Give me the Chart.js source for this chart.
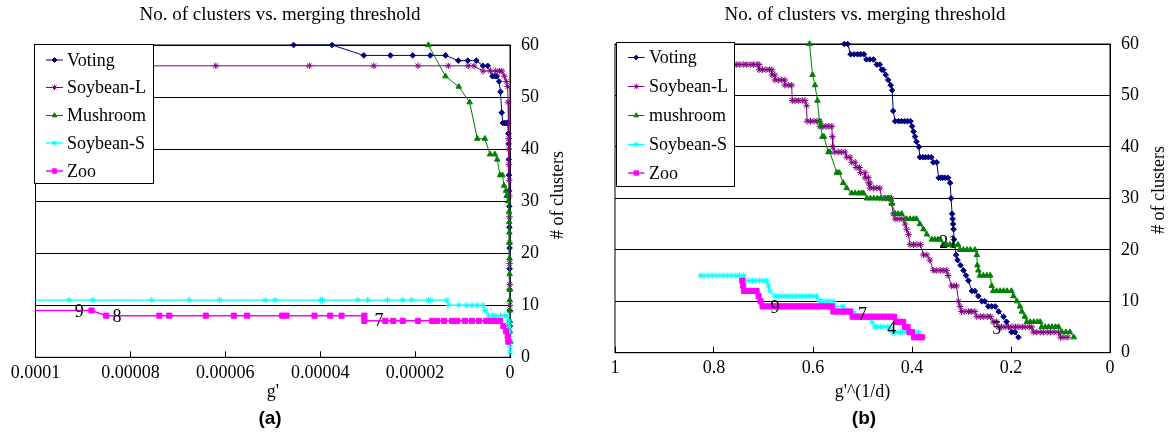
<!DOCTYPE html>
<html>
<head>
<meta charset="utf-8">
<script src="https://cdn.jsdelivr.net/npm/chart.js@4.4.1/dist/chart.umd.min.js"></script>
<style>
  html, body { margin: 0; padding: 0; background: #fff; }
  .panel { position: absolute; top: 0; width: 585px; height: 434px; }
  #panelA { left: 0; }
  #panelB { left: 585px; }
</style>
</head>
<body>
<div class="panel" id="panelA"><canvas id="chartA" width="585" height="434"></canvas></div>
<div class="panel" id="panelB"><canvas id="chartB" width="585" height="434"></canvas></div>
<script>
// ---- panel (a): number of clusters vs g' ----
const seriesNamesA = ['Voting', 'Soybean-L', 'Mushroom', 'Soybean-S', 'Zoo'];
const xTickValuesA = [0, 0.00002, 0.00004, 0.00006, 0.00008, 0.0001];
const xTickLabelsA = ['0', '0.00002', '0.00004', '0.00006', '0.00008', '0.0001'];

const aVotingX = [4.56e-5, 3.75e-5, 3.08e-5, 2.52e-5, 2.05e-5, 1.68e-5, 1.36e-5, 1.09e-5, 8.9e-6, 7.1e-6,
  5.7e-6, 4.7e-6, 3.7e-6, 3.2e-6, 2.8e-6, 2.3e-6, 2.0e-6, 1.75e-6, 1.5e-6, 1.05e-6,
  7e-7, 4.5e-7, 3.5e-7, 3e-7, 2.6e-7, 2.2e-7, 1.9e-7, 1.6e-7, 1.3e-7, 1e-7,
  8e-8, 6e-8, 4e-8, 2e-8, 1e-8];
const aVotingY = [60, 60, 58, 58, 58, 58, 58, 57, 57, 57,
  56, 56, 54, 54, 54, 53, 51, 47, 45, 45,
  45, 45, 43, 41, 38, 35, 32, 29, 25, 21,
  17, 13, 9, 6, 3];

const aSoyLX = [1.05e-4, 6.2e-5, 4.23e-5, 2.87e-5, 1.94e-5, 1.30e-5, 8.8e-6, 7.6e-6, 5.7e-6, 4.1e-6,
  3.0e-6, 2.2e-6, 1.7e-6, 1.2e-6, 8e-7, 5e-7, 4e-7, 3.5e-7, 3e-7, 2.6e-7,
  2.2e-7, 1.8e-7, 1.5e-7, 1.2e-7, 1e-7, 8e-8, 6e-8, 4e-8, 2e-8, 1e-8];
const aSoyLY = [56, 56, 56, 56, 56, 56, 56, 56, 55, 55,
  55, 55, 55, 54, 53, 52, 49, 45, 42, 40,
  37, 34, 31, 27, 22, 18, 14, 10, 6, 3];

const aMushX = [1.72e-5, 1.36e-5, 1.08e-5, 8.5e-6, 6.9e-6, 5.3e-6, 4.2e-6, 3.2e-6, 2.7e-6, 2.1e-6,
  1.6e-6, 1.26e-6, 8.4e-7, 7e-7, 3.6e-7, 2e-7, 1.6e-7, 1.3e-7, 1.1e-7, 9e-8,
  7e-8, 6e-8, 5e-8, 4e-8, 3e-8, 2e-8, 1e-8];
const aMushY = [60, 54, 52, 49, 42, 42, 39, 39, 38, 35,
  35, 33, 32, 31, 30, 28, 26, 24, 22, 19,
  16, 13, 11, 9, 7, 5, 3];

const aSoySX = [1.05e-4, 9.29e-5, 8.79e-5, 7.55e-5, 6.76e-5, 6.12e-5, 5.16e-5, 4.95e-5, 3.99e-5, 3.95e-5,
  3.21e-5, 3.0e-5, 2.58e-5, 2.26e-5, 2.07e-5, 1.72e-5, 1.67e-5, 1.33e-5, 1.29e-5, 1.08e-5,
  9.2e-6, 8.0e-6, 6.9e-6, 5.7e-6, 5.3e-6, 4.5e-6, 3.7e-6, 3.0e-6, 2.0e-6, 1.2e-6,
  6e-7, 3e-7, 2e-7, 1.5e-7, 1e-7, 6e-8, 3e-8, 1e-8];
const aSoySY = [11, 11, 11, 11, 11, 11, 11, 11, 11, 11,
  11, 11, 11, 11, 11, 11, 11, 11, 10, 10,
  10, 10, 10, 10, 9, 8, 8, 8, 8, 8,
  8, 7, 6, 5, 4, 3, 2, 1];

const aZooX = [1.05e-4, 8.82e-5, 8.51e-5, 7.39e-5, 7.18e-5, 6.41e-5, 5.82e-5, 5.54e-5, 4.80e-5, 4.71e-5,
  4.12e-5, 3.79e-5, 3.55e-5, 3.07e-5, 3.07e-5, 2.63e-5, 2.46e-5, 2.26e-5, 1.94e-5, 1.64e-5,
  1.54e-5, 1.39e-5, 1.22e-5, 1.11e-5, 9.5e-6, 8.0e-6, 6.5e-6, 5.0e-6, 4.0e-6, 3.0e-6,
  2.1e-6, 1.4e-6, 8.4e-7, 4.8e-7, 3.6e-7];
const aZooY = [9, 9, 8, 8, 8, 8, 8, 8, 8, 8,
  8, 8, 8, 8, 7, 7, 7, 7, 7, 7,
  7, 7, 7, 7, 7, 7, 7, 7, 7, 7,
  7, 6, 5, 4, 3];

const aNoteText = ['9', '8', '7'];
const aNoteX = [9.08e-5, 8.28e-5, 2.76e-5];
const aNoteY = [8.7, 7.7, 7.0];

// ---- panel (b): number of clusters vs g'^(1/d) ----
const seriesNamesB = ['Voting', 'Soybean-L', 'mushroom', 'Soybean-S', 'Zoo'];
const xTickValuesB = [0, 0.2, 0.4, 0.6, 0.8, 1];
const xTickLabelsB = ['0', '0.2', '0.4', '0.6', '0.8', '1'];

const bVotingX = [0.537, 0.530, 0.524, 0.517, 0.510, 0.504, 0.497, 0.492, 0.485, 0.478,
  0.471, 0.465, 0.461, 0.458, 0.453, 0.448, 0.443, 0.440, 0.438, 0.434,
  0.427, 0.421, 0.415, 0.409, 0.403, 0.400, 0.397, 0.394, 0.391, 0.386,
  0.384, 0.378, 0.373, 0.367, 0.361, 0.357, 0.350, 0.346, 0.342, 0.338,
  0.333, 0.327, 0.323, 0.321, 0.319, 0.318, 0.317, 0.316, 0.315, 0.311,
  0.308, 0.302, 0.296, 0.291, 0.286, 0.279, 0.273, 0.266, 0.259, 0.253,
  0.246, 0.239, 0.232, 0.225, 0.215, 0.209, 0.199, 0.192, 0.185];
const bVotingY = [60, 60, 58, 58, 58, 58, 58, 57, 57, 57,
  56, 56, 55, 55, 54, 53, 52, 51, 47, 45,
  45, 45, 45, 45, 45, 44, 43, 42, 41, 40,
  38, 38, 38, 38, 38, 37, 37, 34, 34, 34,
  34, 34, 33, 30, 27, 26, 25, 24, 22, 19,
  18, 17, 16, 15, 14, 12, 12, 11, 10, 10,
  9, 9, 9, 8, 7, 6, 4, 4, 3];

const bSoyLX = [
  0.770, 0.762, 0.755, 0.748, 0.741, 0.734, 0.727, 0.720, 0.713, 0.709,
  0.709, 0.702, 0.695, 0.688, 0.683,
  0.683, 0.677,
  0.677, 0.670, 0.663, 0.657,
  0.657, 0.650, 0.643,
  0.642, 0.636, 0.629, 0.622, 0.616,
  0.613,
  0.612, 0.605, 0.598, 0.592, 0.586,
  0.586, 0.580, 0.574, 0.568, 0.562,
  0.561, 0.560,
  0.556, 0.549, 0.542, 0.535,
  0.532, 0.525, 0.522, 0.515, 0.513, 0.506, 0.504, 0.495, 0.495, 0.488, 0.488, 0.485,
  0.485, 0.478, 0.471, 0.465,
  0.461, 0.454, 0.447, 0.441,
  0.441, 0.438,
  0.434, 0.426, 0.418,
  0.414, 0.411, 0.407,
  0.404, 0.397, 0.390, 0.383,
  0.377, 0.370, 0.364,
  0.357, 0.350, 0.343, 0.337, 0.330,
  0.327,
  0.320, 0.315, 0.310,
  0.306, 0.303,
  0.300, 0.293, 0.286, 0.280, 0.273,
  0.269, 0.262, 0.255, 0.248, 0.241,
  0.236, 0.229,
  0.226, 0.219, 0.212, 0.205, 0.198, 0.191, 0.184, 0.177, 0.170, 0.163, 0.158,
  0.155, 0.148, 0.141, 0.134, 0.127, 0.120, 0.113, 0.104,
  0.100, 0.093, 0.085];
const bSoyLY = [
  56, 56, 56, 56, 56, 56, 56, 56, 56, 56,
  55, 55, 55, 55, 55,
  54, 54,
  53, 53, 53, 53,
  52, 52, 52,
  49, 49, 49, 49, 49,
  48,
  45, 45, 45, 45, 45,
  44, 44, 44, 44, 44,
  42, 40,
  39, 39, 39, 39,
  38, 38, 37, 37, 36, 36, 35, 35, 34, 34, 33, 33,
  32, 32, 32, 32,
  30, 30, 30, 30,
  29, 27,
  26, 26, 26,
  25, 24, 23,
  21, 21, 21, 21,
  19, 19, 18,
  16, 16, 16, 16, 16,
  15,
  13, 13, 13,
  10, 9,
  8, 8, 8, 8, 8,
  7, 7, 7, 7, 7,
  6, 6,
  5, 5, 5, 5, 5, 5, 5, 5, 5, 5, 5,
  4, 4, 4, 4, 4, 4, 4, 4,
  3, 3, 3];

const bMushX = [0.607, 0.601, 0.596, 0.591, 0.587, 0.584, 0.581, 0.578, 0.569, 0.566,
  0.552, 0.547, 0.539, 0.532, 0.522, 0.515, 0.508, 0.502, 0.498, 0.491,
  0.484, 0.477, 0.470, 0.463, 0.456, 0.449, 0.444, 0.441, 0.434, 0.428,
  0.421, 0.411, 0.404, 0.397, 0.391, 0.384, 0.377, 0.370, 0.360, 0.354,
  0.348, 0.343, 0.337, 0.330, 0.323, 0.316, 0.307, 0.303, 0.296, 0.289,
  0.282, 0.273, 0.269, 0.268, 0.266, 0.263, 0.256, 0.249, 0.242, 0.239,
  0.236, 0.229, 0.222, 0.215, 0.208, 0.199, 0.195, 0.188, 0.182, 0.178,
  0.172, 0.168, 0.161, 0.154, 0.147, 0.141, 0.138, 0.131, 0.124, 0.117,
  0.110, 0.104, 0.097, 0.089, 0.081, 0.073];
const bMushY = [60, 54, 52, 49, 45, 44, 42, 42, 39, 39,
  35, 35, 33, 32, 31, 31, 31, 31, 31, 30,
  30, 30, 30, 30, 30, 30, 30, 29, 27, 27,
  27, 26, 26, 26, 26, 25, 24, 23, 22, 22,
  22, 22, 21, 21, 21, 21, 21, 20, 20, 20,
  20, 20, 19, 17, 16, 15, 15, 15, 15, 13,
  12, 12, 12, 12, 12, 12, 11, 10, 9, 8,
  7, 6, 6, 6, 6, 6, 5, 5, 5, 5,
  5, 5, 4, 4, 4, 3];

const bSoySX = [
  0.827, 0.820, 0.812, 0.804, 0.796, 0.788, 0.780, 0.772, 0.764, 0.756, 0.748, 0.740,
  0.736, 0.729, 0.722, 0.715, 0.708, 0.701, 0.694,
  0.690, 0.687,
  0.677, 0.670, 0.663, 0.656, 0.649, 0.642, 0.635, 0.628, 0.621, 0.614, 0.607, 0.600, 0.593,
  0.586, 0.582, 0.575, 0.568, 0.559,
  0.556, 0.540, 0.525, 0.519, 0.500, 0.485, 0.481,
  0.475, 0.471, 0.464, 0.457, 0.450, 0.444,
  0.440, 0.430, 0.423, 0.416, 0.409, 0.402, 0.395, 0.387,
  0.377];
const bSoySY = [
  15, 15, 15, 15, 15, 15, 15, 15, 15, 15, 15, 15,
  14, 14, 14, 14, 14, 14, 14,
  13, 12,
  11, 11, 11, 11, 11, 11, 11, 11, 11, 11, 11, 11, 11,
  10, 10, 10, 10, 10,
  9, 9, 8, 8, 7, 7, 6,
  5, 5, 5, 5, 5, 5,
  4, 4, 4, 4, 4, 4, 4, 4,
  3];

const bZooX = [
  0.743, 0.741,
  0.739, 0.731, 0.723, 0.714,
  0.710, 0.706,
  0.702, 0.695, 0.688, 0.681, 0.674, 0.667, 0.660, 0.653, 0.646, 0.639, 0.632,
  0.625, 0.618, 0.611, 0.604, 0.597, 0.590, 0.583, 0.576, 0.569, 0.562,
  0.559, 0.552, 0.545, 0.538, 0.531, 0.525,
  0.520, 0.513, 0.506, 0.499, 0.492, 0.485, 0.478, 0.471, 0.464, 0.457, 0.450, 0.443, 0.436,
  0.432, 0.425, 0.418,
  0.414, 0.409,
  0.405, 0.400,
  0.396, 0.390, 0.384, 0.380];
const bZooY = [
  14, 13,
  12, 12, 12, 12,
  11, 10,
  9, 9, 9, 9, 9, 9, 9, 9, 9, 9, 9,
  9, 9, 9, 9, 9, 9, 9, 9, 9, 9,
  8, 8, 8, 8, 8, 8,
  7, 7, 7, 7, 7, 7, 7, 7, 7, 7, 7, 7, 7,
  6, 6, 6,
  5, 5,
  4, 4,
  3, 3, 3, 3];

const bNoteText = ['9', '7', '4', '21', '5'];
const bNoteX = [0.677, 0.500, 0.441, 0.327, 0.229];
const bNoteY = [8.6, 7.3, 4.5, 21.3, 4.5];

// ---- look ----
const serif = '"Liberation Serif", "Times New Roman", serif';
const seriesLook = [
  { color: '#000080', style: 'rectRot', radius: 2.8, width: 1 },
  { color: '#800080', style: 'star', radius: 3.3, width: 1 },
  { color: '#008000', style: 'triangle', radius: 3.2, width: 1 },
  { color: '#00FFFF', style: 'star', radius: 3.2, width: 1.3 },
  { color: '#FF00FF', style: 'rect', radius: 3.6, width: 1.5 }
];

function toPoints(xs, ys) {
  return xs.map((x, i) => ({ x: x, y: ys[i] }));
}

function drawMarker(ctx, style, r, x, y) {
  if (Chart.helpers && Chart.helpers.drawPoint) {
    Chart.helpers.drawPoint(ctx, { pointStyle: style, radius: r, rotation: 0, borderWidth: 1 }, x, y);
    return;
  }
  ctx.beginPath();
  ctx.arc(x, y, r, 0, Math.PI * 2);
  ctx.fill();
}

function panelPlugin(p) {
  return {
    id: 'panelDecor',
    beforeDatasetsDraw(chart) {
      const ctx = chart.ctx, a = chart.chartArea;
      ctx.save();
      ctx.strokeStyle = '#000';
      ctx.lineWidth = 1;
      ctx.strokeRect(a.left, a.top, a.right - a.left, a.bottom - a.top);
      ctx.restore();
    },
    afterDatasetsDraw(chart) {
      const ctx = chart.ctx;
      const lb = p.legendBox;
      ctx.save();
      // legend box
      ctx.fillStyle = '#fff';
      ctx.fillRect(lb.x, lb.y, lb.w, lb.h);
      ctx.strokeStyle = '#000';
      ctx.lineWidth = 1;
      ctx.strokeRect(lb.x, lb.y, lb.w, lb.h);
      chart.data.datasets.forEach((ds, i) => {
        const y = p.legendRows[i];
        ctx.strokeStyle = ds.borderColor;
        ctx.lineWidth = ds.borderWidth;
        ctx.beginPath();
        ctx.moveTo(p.legendLine[0], y);
        ctx.lineTo(p.legendLine[1], y);
        ctx.stroke();
        ctx.fillStyle = ds.pointBackgroundColor;
        ctx.strokeStyle = ds.pointBorderColor;
        ctx.lineWidth = 1;
        drawMarker(ctx, ds.pointStyle, ds.pointRadius * 0.85, (p.legendLine[0] + p.legendLine[1]) / 2, y);
        ctx.fillStyle = '#000';
        ctx.font = '18px ' + serif;
        ctx.textAlign = 'left';
        ctx.textBaseline = 'middle';
        ctx.fillText(ds.label, p.legendText, y + 1);
      });
      // numbers written next to the curves
      const xs = chart.scales.x, ys = chart.scales.y;
      ctx.fillStyle = '#000';
      ctx.font = '18px ' + serif;
      ctx.textAlign = 'center';
      ctx.textBaseline = 'middle';
      p.notes.text.forEach((t, i) => {
        ctx.fillText(t, xs.getPixelForValue(p.notes.x[i]), ys.getPixelForValue(p.notes.y[i]));
      });
      ctx.restore();
    },
    afterDraw(chart) {
      const ctx = chart.ctx;
      ctx.save();
      ctx.fillStyle = '#000';
      ctx.textAlign = 'center';
      ctx.textBaseline = 'middle';
      ctx.font = '19px ' + serif;
      ctx.fillText('No. of clusters vs. merging threshold', p.titleX, 15);
      ctx.font = 'bold 19px "Liberation Sans", Arial, sans-serif';
      ctx.fillText(p.caption, p.captionX, 419);
      ctx.font = '18px ' + serif;
      ctx.translate(p.yTitleX, p.yTitleY);
      ctx.rotate(-Math.PI / 2);
      ctx.fillText('# of clusters', 0, 0);
      ctx.restore();
    }
  };
}

function buildPanel(p) {
  const datasets = p.series.map((s, i) => ({
    label: p.names[i],
    data: toPoints(s[0], s[1]),
    showLine: true,
    borderColor: seriesLook[i].color,
    backgroundColor: seriesLook[i].color,
    borderWidth: seriesLook[i].width,
    pointStyle: seriesLook[i].style,
    pointRadius: seriesLook[i].radius,
    pointHoverRadius: seriesLook[i].radius,
    pointBorderWidth: 1,
    pointBackgroundColor: seriesLook[i].color,
    pointBorderColor: seriesLook[i].color,
    order: 5 - i,
    tension: 0,
    clip: { left: 0, top: 8, right: 8, bottom: 8 }
  }));

  return new Chart(document.getElementById(p.canvas), {
    type: 'scatter',
    data: { datasets: datasets },
    options: {
      responsive: false,
      animation: false,
      devicePixelRatio: 1,
      layout: {
        padding: { left: p.area.left, top: p.area.top, right: 0, bottom: 434 - p.area.bottom - p.xAxisHeight }
      },
      plugins: {
        legend: { display: false },
        tooltip: { enabled: false },
        title: { display: false }
      },
      scales: {
        x: {
          type: 'linear',
          min: 0,
          max: p.xMax,
          reverse: true,
          afterBuildTicks: (scale) => { scale.ticks = p.xTicks.map(v => ({ value: v })); },
          afterFit: (scale) => { scale.height = p.xAxisHeight; },
          grid: { drawOnChartArea: false, drawTicks: true, tickLength: -6, color: '#000', lineWidth: 1 },
          border: { display: true, color: '#000', width: 1 },
          ticks: {
            padding: 11,
            color: '#000',
            maxRotation: 0,
            autoSkip: false,
            font: { family: serif, size: 18 },
            callback: (v, i) => p.xTickLabels[i]
          },
          title: {
            display: true,
            text: p.xTitle,
            color: '#000',
            font: { family: serif, size: 18 },
            padding: { top: 0, bottom: 0 }
          }
        },
        y: {
          type: 'linear',
          position: 'right',
          min: 0,
          max: 60,
          afterFit: (scale) => { scale.width = 585 - p.area.right; },
          grid: { color: '#000', lineWidth: 1, drawTicks: false },
          border: { display: true, color: '#000', width: 1 },
          ticks: { stepSize: 10, padding: 11, color: '#000', font: { family: serif, size: 18 } }
        }
      }
    },
    plugins: [panelPlugin(p)]
  });
}

buildPanel({
  canvas: 'chartA',
  names: seriesNamesA,
  series: [[aVotingX, aVotingY], [aSoyLX, aSoyLY], [aMushX, aMushY], [aSoySX, aSoySY], [aZooX, aZooY]],
  xMax: 0.0001,
  xTicks: xTickValuesA,
  xTickLabels: xTickLabelsA,
  xTitle: "g'",
  xAxisHeight: 46,
  area: { left: 35.5, top: 45, right: 510, bottom: 357.3 },
  notes: { text: aNoteText, x: aNoteX, y: aNoteY },
  titleX: 280,
  caption: '(a)',
  captionX: 270,
  yTitleX: 558,
  yTitleY: 195,
  legendBox: { x: 34.5, y: 44.5, w: 119, h: 139 },
  legendRows: [60, 87.5, 115.5, 143, 171],
  legendLine: [46, 63],
  legendText: 67
});

buildPanel({
  canvas: 'chartB',
  names: seriesNamesB,
  series: [[bVotingX, bVotingY], [bSoyLX, bSoyLY], [bMushX, bMushY], [bSoySX, bSoySY], [bZooX, bZooY]],
  xMax: 1,
  xTicks: xTickValuesB,
  xTickLabels: xTickLabelsB,
  xTitle: "g'^(1/d)",
  xAxisHeight: 50,
  area: { left: 30, top: 44, right: 525, bottom: 352.7 },
  notes: { text: bNoteText, x: bNoteX, y: bNoteY },
  titleX: 280,
  caption: '(b)',
  captionX: 279,
  yTitleX: 574,
  yTitleY: 190,
  legendBox: { x: 31.5, y: 42.5, w: 118, h: 144 },
  legendRows: [57.5, 86.5, 115.5, 144.5, 173],
  legendLine: [43, 59.5],
  legendText: 64
});
</script>
</body>
</html>
